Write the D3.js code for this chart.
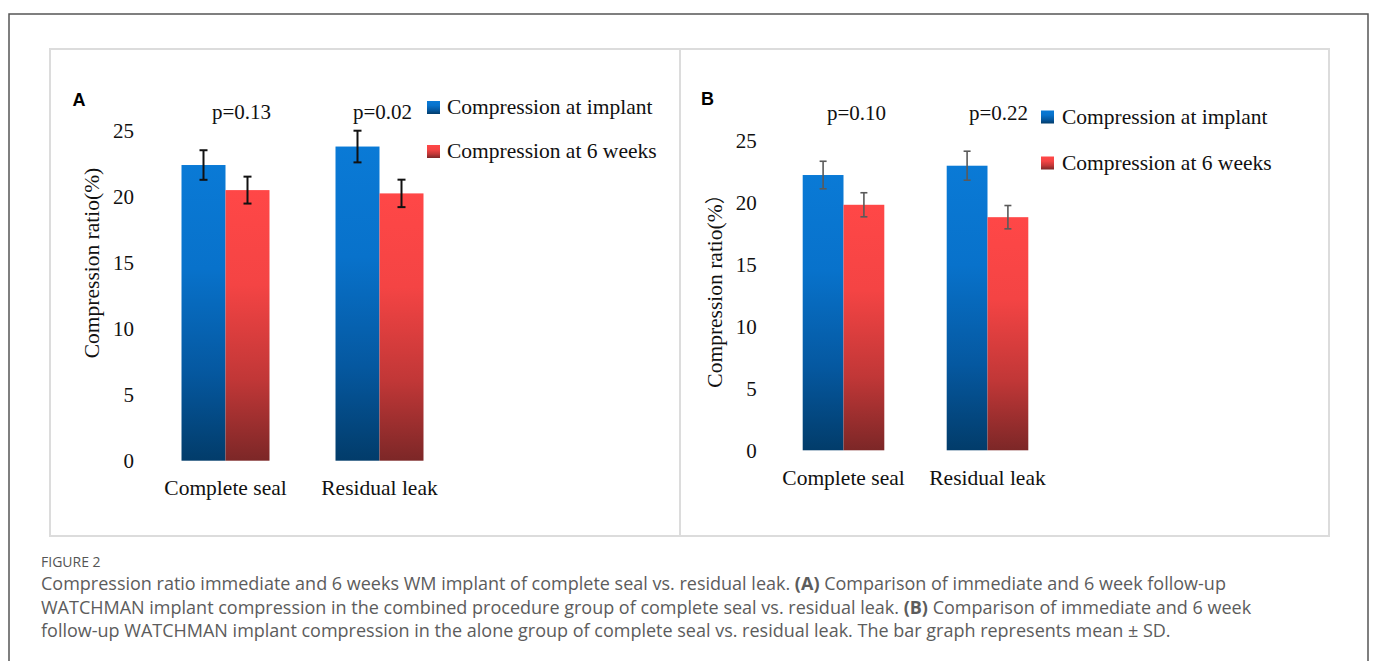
<!DOCTYPE html>
<html>
<head>
<meta charset="utf-8">
<script src="https://cdn.jsdelivr.net/npm/d3@7"></script>
<style>
  html, body { margin: 0; padding: 0; background: #fff; }
  svg { display: block; }
</style>
</head>
<body>
<script>
// ---------------- data ----------------
const categories = ["Complete seal", "Residual leak"];
const seriesNames = ["Compression at implant", "Compression at 6 weeks"];
const yTicks = [0, 5, 10, 15, 20, 25];

// Panel A (combined procedure group)
const implantA = [22.4, 23.8];
const sixWeeksA = [20.5, 20.25];
const implantSdA = [1.12, 1.2];
const sixWeeksSdA = [1.02, 1.04];
const pLabelsA = ["p=0.13", "p=0.02"];

// Panel B (alone group)
const implantB = [22.2, 22.95];
const sixWeeksB = [19.8, 18.8];
const implantSdB = [1.11, 1.17];
const sixWeeksSdB = [0.97, 0.94];
const pLabelsB = ["p=0.10", "p=0.22"];

const yTitleA = ["Compression ratio(%)"];
const yTitleB = ["Compression ratio(%", "\uFF09"];
const panelLetters = ["A", "B"];

const captionTitle = "FIGURE 2";
const captionLines = [
  [["Compression ratio immediate and 6 weeks WM implant of complete seal vs. residual leak. ", false], ["(A)", true], [" Comparison of immediate and 6 week follow-up", false]],
  [["WATCHMAN implant compression in the combined procedure group of complete seal vs. residual leak. ", false], ["(B)", true], [" Comparison of immediate and 6 week", false]],
  [["follow-up WATCHMAN implant compression in the alone group of complete seal vs. residual leak. The bar graph represents mean \u00B1 SD.", false]]
];

// ---------------- layout ----------------
const W = 1375, H = 661;
const serif = "'Liberation Serif', 'Times New Roman', serif";
const sans = "'Liberation Sans', Arial, sans-serif";
const capFont = "'Open Sans', 'Noto Sans', sans-serif";
const cjk = "'Noto Sans CJK SC', 'Noto Sans CJK JP', serif";

const svg = d3.select("body").append("svg").attr("width", W).attr("height", H);

const defs = svg.append("defs");
function grad(id, stops) {
  const g = defs.append("linearGradient").attr("id", id)
    .attr("x1", 0).attr("y1", 0).attr("x2", 0).attr("y2", 1);
  stops.forEach(s => g.append("stop").attr("offset", s[0]).attr("stop-color", s[1]));
}
grad("gBlue", [[0, "#0a7ad6"], [0.35, "#0872cb"], [0.7, "#0558a0"], [1, "#023c6a"]]);
grad("gRed", [[0, "#ff4747"], [0.35, "#f44444"], [0.7, "#c13737"], [1, "#7c2727"]]);
const fills = ["url(#gBlue)", "url(#gRed)"];

// outer border
svg.append("rect").attr("x", 9).attr("y", 14).attr("width", 1359).attr("height", 720)
  .attr("fill", "none").attr("stroke", "#555").attr("stroke-width", 1.5);

// inner panel frame
svg.append("rect").attr("x", 50).attr("y", 49).attr("width", 1279).attr("height", 487)
  .attr("fill", "#fff").attr("stroke", "#dcdcdc").attr("stroke-width", 2);
svg.append("line").attr("x1", 680).attr("x2", 680).attr("y1", 49).attr("y2", 536)
  .attr("stroke", "#dcdcdc").attr("stroke-width", 2);

function panel(cfg) {
  const g = svg.append("g");
  const y = d3.scaleLinear().domain([0, 25]).range([cfg.y0, cfg.y25]);
  const x = d3.scaleBand().domain(categories).range(cfg.xRange)
    .paddingInner(cfg.padIn).paddingOuter(cfg.padIn / 2);
  const xs = d3.scaleBand().domain(seriesNames).range([0, x.bandwidth()]).padding(0);

  // y axis (labels only)
  const yAxis = d3.axisLeft(y).tickValues(yTicks).tickSize(0).tickPadding(0);
  const ya = g.append("g").attr("transform", `translate(${cfg.tickRight},0)`).call(yAxis);
  ya.select(".domain").remove();
  ya.selectAll("text").attr("font-family", serif).attr("font-size", 21)
    .attr("fill", "#111").attr("dy", "0.34em");

  // x axis (labels only)
  const xAxis = d3.axisBottom(x).tickSize(0).tickPadding(0);
  const xa = g.append("g").attr("transform", `translate(0,${cfg.y0})`).call(xAxis);
  xa.select(".domain").remove();
  xa.selectAll("text").attr("font-family", serif).attr("font-size", 21.5)
    .attr("fill", "#111").attr("dy", 0).attr("y", 34.5);

  // bars
  const rows = [];
  categories.forEach((c, i) => {
    rows.push({c, s: seriesNames[0], v: cfg.implant[i], sd: cfg.implantSd[i], k: 0});
    rows.push({c, s: seriesNames[1], v: cfg.six[i], sd: cfg.sixSd[i], k: 1});
  });
  g.selectAll("rect.bar").data(rows).join("rect").attr("class", "bar")
    .attr("x", d => x(d.c) + xs(d.s))
    .attr("width", xs.bandwidth())
    .attr("y", d => y(d.v))
    .attr("height", d => y(0) - y(d.v))
    .attr("fill", d => fills[d.k]);

  // error bars
  const eb = g.selectAll("g.err").data(rows).join("g").attr("class", "err")
    .attr("stroke", cfg.errColor).attr("stroke-width", cfg.errWidth).attr("fill", "none");
  const cx = d => x(d.c) + xs(d.s) + xs.bandwidth() / 2;
  eb.append("line").attr("x1", cx).attr("x2", cx)
    .attr("y1", d => y(d.v + d.sd)).attr("y2", d => y(d.v - d.sd));
  eb.append("line").attr("x1", d => cx(d) - cfg.cap).attr("x2", d => cx(d) + cfg.cap)
    .attr("y1", d => y(d.v + d.sd)).attr("y2", d => y(d.v + d.sd));
  eb.append("line").attr("x1", d => cx(d) - cfg.cap).attr("x2", d => cx(d) + cfg.cap)
    .attr("y1", d => y(d.v - d.sd)).attr("y2", d => y(d.v - d.sd));

  // p-values
  g.selectAll("text.p").data(categories).join("text").attr("class", "p")
    .attr("x", (c, i) => x(c) + x.bandwidth() / 2 + cfg.pShift[i])
    .attr("y", cfg.pY)
    .attr("text-anchor", "middle")
    .attr("font-family", serif).attr("font-size", 21).attr("fill", "#111")
    .text((c, i) => cfg.pLabels[i]);

  // y title
  const tt = g.append("text")
    .attr("transform", `translate(${cfg.titleX},${cfg.titleY}) rotate(-90)`)
    .attr("text-anchor", "middle")
    .attr("font-family", serif).attr("font-size", 21.5).attr("fill", "#111");
  cfg.yTitle.forEach((part, i) => {
    const ts = tt.append("tspan").text(part);
    if (i > 0) ts.attr("font-family", cjk).attr("font-size", 20);
  });

  // panel letter
  g.append("text").attr("x", cfg.letterX).attr("y", cfg.letterY)
    .attr("font-family", sans).attr("font-weight", "bold").attr("font-size", 18)
    .attr("fill", "#000").text(cfg.letter);

  // legend
  const lg = g.selectAll("g.leg").data(seriesNames).join("g").attr("class", "leg")
    .attr("transform", (d, i) => `translate(${cfg.legX},${cfg.legY[i]})`);
  lg.append("rect").attr("x", 0).attr("y", -13).attr("width", 13).attr("height", 13)
    .attr("fill", (d, i) => fills[i]);
  lg.append("text").attr("x", cfg.legTextDx).attr("y", 0)
    .attr("font-family", serif).attr("font-size", 21.5).attr("fill", "#111")
    .text(d => d);
}

panel({
  y0: 460.7, y25: 130.7,
  xRange: [148.5, 456.5], padIn: 0.4286,
  tickRight: 134,
  implant: implantA, six: sixWeeksA, implantSd: implantSdA, sixSd: sixWeeksSdA,
  errColor: "#111", errWidth: 2, cap: 4,
  pLabels: pLabelsA, pY: 118.5, pShift: [16, 3],
  yTitle: yTitleA, titleX: 98.5, titleY: 263,
  letter: panelLetters[0], letterX: 72.5, letterY: 105.5,
  legX: 427, legY: [114, 158], legTextDx: 20
});

panel({
  y0: 450.3, y25: 140.3,
  xRange: [771.5, 1059.5], padIn: 0.4333,
  tickRight: 756.7,
  implant: implantB, six: sixWeeksB, implantSd: implantSdB, sixSd: sixWeeksSdB,
  errColor: "#5a5a5a", errWidth: 1.6, cap: 3.5,
  pLabels: pLabelsB, pY: 119.5, pShift: [13, 11],
  yTitle: yTitleB, titleX: 722, titleY: 286,
  letter: panelLetters[1], letterX: 701, letterY: 104.5,
  legX: 1041, legY: [123.5, 169.5], legTextDx: 21
});

// caption
svg.append("text").attr("x", 41).attr("y", 567)
  .attr("font-family", capFont).attr("font-size", 14).attr("fill", "#555")
  .text(captionTitle);

const cap = svg.append("g");
captionLines.forEach((parts, i) => {
  const t = cap.append("text").attr("x", 41).attr("y", 590 + i * 23.5)
    .attr("font-family", capFont).attr("font-size", 18).attr("fill", "#5c5c5c");
  parts.forEach(p => t.append("tspan").attr("font-weight", p[1] ? "bold" : null).text(p[0]));
});
</script>
</body>
</html>
